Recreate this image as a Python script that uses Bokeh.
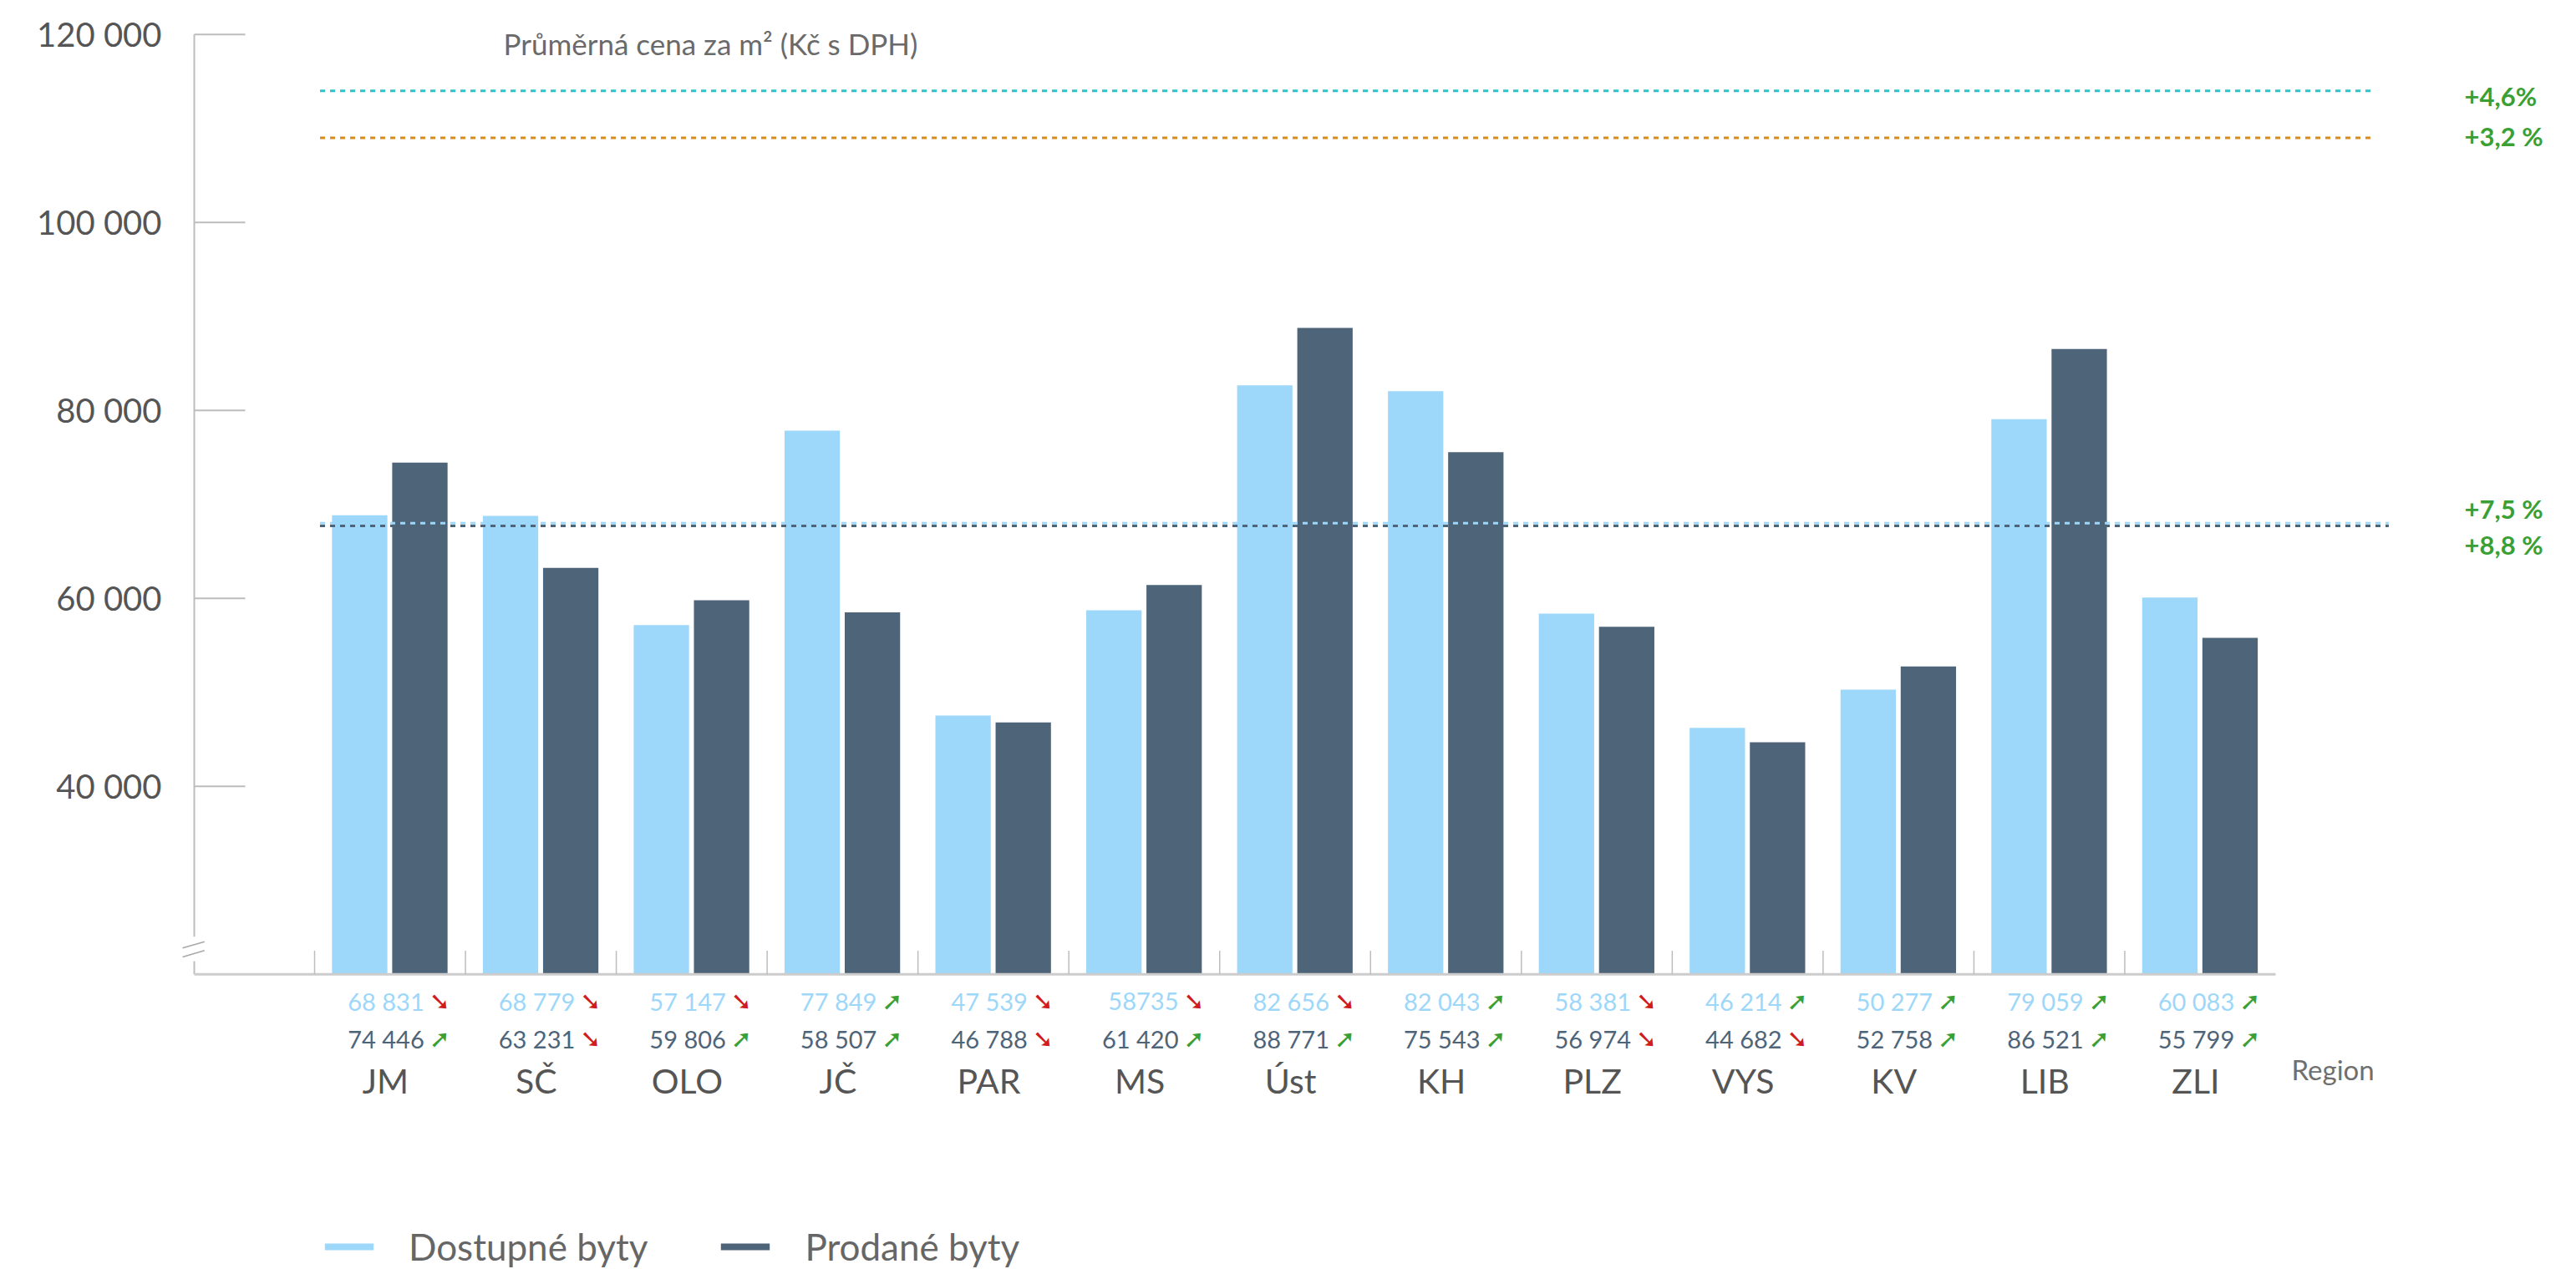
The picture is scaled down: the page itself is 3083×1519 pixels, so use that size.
from bokeh.plotting import figure
from bokeh.models import Range1d, ColumnDataSource, Legend, LegendItem
from bokeh.core.properties import value
from bokeh.embed import file_html
from bokeh.resources import INLINE

# --- data -------------------------------------------------------------------
regions = ["JM", "SČ", "OLO", "JČ", "PAR", "MS", "Úst", "KH", "PLZ", "VYS", "KV", "LIB", "ZLI"]
available = [68831, 68779, 57147, 77849, 47539, 58735, 82656, 82043, 58381, 46214, 50277, 79059, 60083]
sold = [74446, 63231, 59806, 58507, 46788, 61420, 88771, 75543, 56974, 44682, 52758, 86521, 55799]
available_text = ["68 831", "68 779", "57 147", "77 849", "47 539", "58735", "82 656",
                  "82 043", "58 381", "46 214", "50 277", "79 059", "60 083"]
sold_text = ["74 446", "63 231", "59 806", "58 507", "46 788", "61 420", "88 771",
             "75 543", "56 974", "44 682", "52 758", "86 521", "55 799"]
available_trend = ["down", "down", "down", "up", "down", "down", "down", "up", "down", "up", "up", "up", "up"]
sold_trend = ["up", "down", "up", "up", "down", "up", "up", "up", "down", "down", "up", "up", "up"]

# reference price levels (dotted lines) and their year-on-year change
ref_values = [114000, 109000, 68000, 67700]
ref_changes = ["+4,6%", "+3,2 %", "+7,5 %", "+8,8 %"]

y_ticks = [40000, 60000, 80000, 100000, 120000]
series_names = ["Dostupné byty", "Prodané byty"]

# --- style --------------------------------------------------------------------
LIGHT = "#9dd7f9"
DARK = "#4e6479"
UP = "#3a9f35"
DOWN = "#d01c1f"
AXIS = "#bdbdbd"
FONT = value("Lato")
BASE = 20000          # value at which the (broken) value axis starts

ref_colors = ["#2fc3c9", "#d98a1d", LIGHT, DARK]
ref_ends = [13.64, 13.64, 13.75, 13.75]
ref_label_shift = [-600, 200, 1560, -1990]

p = figure(width=3083, height=1519,
           x_range=Range1d(-2.0827, 14.994), y_range=Range1d(-11404, 123618),
           x_axis_location=None, y_axis_location=None,
           min_border=0, toolbar_location=None, output_backend="svg")
p.outline_line_color = None
p.xgrid.visible = False
p.ygrid.visible = False
p.background_fill_color = "white"
p.border_fill_color = "white"

n = len(regions)
idx = list(range(n))

# --- bars ---------------------------------------------------------------------
bars = ColumnDataSource(dict(
    x_av=[i + 0.299 for i in idx], x_so=[i + 0.698 for i in idx],
    available=available, sold=sold))
r_av = p.vbar(x="x_av", top="available", bottom=BASE, width=0.367, source=bars,
              fill_color=LIGHT, line_color=None)
r_so = p.vbar(x="x_so", top="sold", bottom=BASE, width=0.367, source=bars,
              fill_color=DARK, line_color=None)

# --- reference lines with change labels ----------------------------------------
for v, c, end, txt, shift in zip(ref_values, ref_colors, ref_ends, ref_changes, ref_label_shift):
    p.segment(x0=[0.036], y0=[v], x1=[end], y1=[v], line_color=c, line_width=3,
              line_dash="6 6")
    p.text(x=[14.252], y=[v + shift], text=[txt], text_font=FONT, text_font_size="31px",
           text_font_style="bold", text_color=UP, text_align="left", text_baseline="middle")

# --- value axis (drawn by hand, with a break near its base) ---------------------
AX = -0.7976
p.segment(x0=[AX, AX], y0=[24000, BASE], x1=[AX, AX], y1=[120000, 21400],
          line_color=AXIS, line_width=2)
p.segment(x0=[AX] * len(y_ticks), y0=y_ticks, x1=[-0.4597] * len(y_ticks), y1=y_ticks,
          line_color=AXIS, line_width=2)
p.text(x=[-1.0136] * len(y_ticks), y=y_ticks,
       text=[f"{t:,}".replace(",", " ") for t in y_ticks],
       text_font=FONT, text_font_size="40px", text_color="#555555",
       text_align="right", text_baseline="middle")
p.segment(x0=[-0.875, -0.875], y0=[22791, 21840], x1=[-0.7295, -0.7295], y1=[23467, 22524],
          line_color="#a8a8a8", line_width=1.5)

# --- category axis ---------------------------------------------------------------
p.segment(x0=[AX], y0=[BASE], x1=[n], y1=[BASE], line_color="#cccccc", line_width=3)
p.segment(x0=idx, y0=[BASE] * n, x1=idx, y1=[22500] * n, line_color=AXIS, line_width=1.5)

labels = ColumnDataSource(dict(
    x_num=[i + 0.727 for i in idx], x_arrow=[i + 0.76 for i in idx],
    x_name=[i + 0.47 for i in idx],
    available_text=available_text, sold_text=sold_text, regions=regions,
    av_arrow=["➚" if t == "up" else "➘" for t in available_trend],
    av_color=[UP if t == "up" else DOWN for t in available_trend],
    so_arrow=["➚" if t == "up" else "➘" for t in sold_trend],
    so_color=[UP if t == "up" else DOWN for t in sold_trend],
))
p.text(x="x_num", y=17156, text="available_text", source=labels, text_font=FONT,
       text_font_size="29px", text_color=LIGHT, text_align="right", text_baseline="middle")
p.text(x="x_num", y=13156, text="sold_text", source=labels, text_font=FONT,
       text_font_size="29px", text_color=DARK, text_align="right", text_baseline="middle")
p.text(x="x_arrow", y=17156, text="av_arrow", source=labels, text_font=value("DejaVu Sans"),
       text_font_size="30px", text_color="av_color",
       text_align="left", text_baseline="middle")
p.text(x="x_arrow", y=13156, text="so_arrow", source=labels, text_font=value("DejaVu Sans"),
       text_font_size="30px", text_color="so_color",
       text_align="left", text_baseline="middle")
p.text(x="x_name", y=8729, text="regions", source=labels, text_font=FONT,
       text_font_size="41px", text_color="#555555", text_align="center", text_baseline="middle")
p.text(x=[13.105], y=[9929], text=["Region"], text_font=FONT, text_font_size="33px",
       text_color="#6f6f6f", text_align="left", text_baseline="middle")

# --- chart caption -----------------------------------------------------------------
p.text(x=[1.2518], y=[119084], text=["Průměrná cena za m² (Kč s DPH)"], text_font=FONT,
       text_font_size="35px", text_color="#6a6a6a", text_align="left", text_baseline="middle")

# --- legend ---------------------------------------------------------------------------
legend = Legend(items=[LegendItem(label=series_names[0], renderers=[r_av]),
                       LegendItem(label=series_names[1], renderers=[r_so])],
                orientation="horizontal", location=(381, 1),
                glyph_width=73, glyph_height=10, label_height=40, label_standoff=35,
                spacing=80, padding=0, margin=0,
                border_line_alpha=0, background_fill_alpha=0,
                label_text_font="Lato", label_text_font_size="44px",
                label_text_color="#666666", label_text_baseline="middle")
p.add_layout(legend)

open("out.html", "w").write(file_html(p, INLINE))
